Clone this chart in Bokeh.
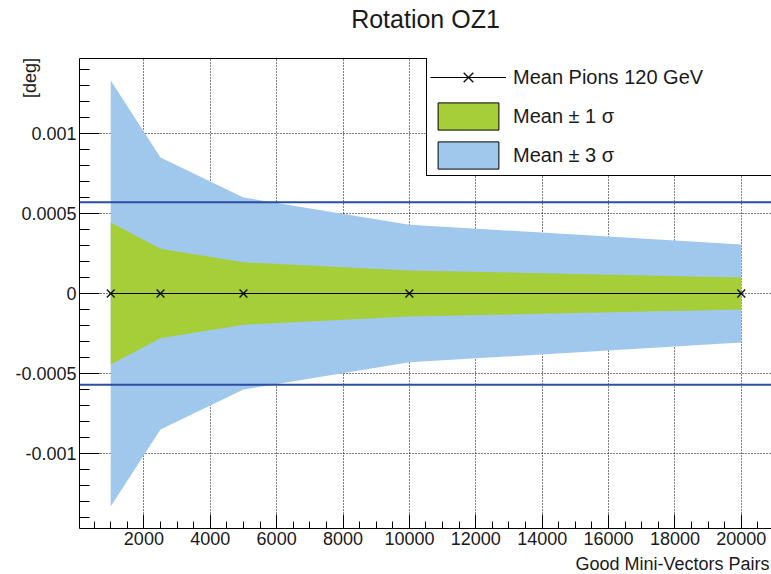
import math
import numpy as np
from bokeh.plotting import figure
from bokeh.models import (Range1d, FixedTicker, Span, Label, Legend, LegendItem,
                          LinearAxis, Title)
from bokeh.core.properties import value
from bokeh.embed import file_html
from bokeh.resources import INLINE

# ---------------- data ----------------
n_pairs = [1000, 2500, 5000, 10000, 20000]
mean_vals = [0.0, 0.0, 0.0, 0.0, 0.0]
sigma1 = [0.000444, 0.00028, 0.000195, 0.000144, 0.0001]
sigma3 = [0.00133, 0.00085, 0.0006, 0.00043, 0.000306]
limit = 0.00057

x_ticks = [2000, 4000, 6000, 8000, 10000, 12000, 14000, 16000, 18000, 20000]
y_ticks = [-0.001, -0.0005, 0.0, 0.0005, 0.001]
y_tick_labels = ["-0.001", "-0.0005", "0", "0.0005", "0.001"]

title_text = "Rotation OZ1"
x_title = "Good Mini-Vectors Pairs"
y_title = "[deg]"
legend_labels = ["Mean Pions 120 GeV", "Mean \u00b1 1 \u03c3", "Mean \u00b1 3 \u03c3"]

# ---------------- style / layout ----------------
FONT = "Liberation Sans"
GREEN = "#a6ce39"
BLUE = "#a0c8ec"
LIMIT_COLOR = "#2a4ea3"
TEXT = "#1a1a1a"
X0, X1 = 60, 20910
Y0, Y1 = -0.001468, 0.001468
LEFT, TOP, FRAME_W, FRAME_H = 79, 58, 692, 470
XPP = (X1 - X0) / FRAME_W     # data units per pixel
YPP = (Y1 - Y0) / FRAME_H

mean = np.array(mean_vals)
s1 = np.array(sigma1)
s3 = np.array(sigma3)

p = figure(width=771, height=572, output_backend="svg", toolbar_location=None,
           x_range=Range1d(X0, X1), y_range=Range1d(Y0, Y1),
           min_border_left=LEFT, min_border_right=0, min_border_top=TOP,
           min_border_bottom=572 - TOP - FRAME_H, outline_line_color=None,
           title=None, background_fill_color="white", border_fill_color="white")

# bands
p.varea(x=n_pairs, y1=mean - s3, y2=mean + s3, fill_color=BLUE, fill_alpha=1.0)
p.varea(x=n_pairs, y1=mean - s1, y2=mean + s1, fill_color=GREEN, fill_alpha=1.0)

# legend proxies (invisible patches built from the same data, with outline)
px = list(n_pairs) + list(n_pairs[::-1])
proxy1 = p.patch(x=px, y=list(mean + s1) + list((mean - s1)[::-1]),
                 fill_color=GREEN, line_color="black", line_width=1, visible=False)
proxy3 = p.patch(x=px, y=list(mean + s3) + list((mean - s3)[::-1]),
                 fill_color=BLUE, line_color="black", line_width=1, visible=False)

# limit lines
for loc in (limit, -limit):
    p.add_layout(Span(location=loc, dimension="width", line_color=LIMIT_COLOR,
                      line_width=2))

# mean line + markers
r_line = p.line(n_pairs, mean_vals, line_color="black", line_width=1)
r_pts = p.scatter(n_pairs, mean_vals, marker="x", size=11, line_color="#111111",
                  line_width=1.4)

# axes
xa = p.xaxis[0]
ya = p.yaxis[0]
xa.ticker = FixedTicker(ticks=x_ticks, minor_ticks=list(range(500, 21000, 500)))
ya.ticker = FixedTicker(ticks=y_ticks,
                        minor_ticks=[round(k * 0.0001, 6) for k in range(-14, 15)])
ya.major_label_overrides = {t: l for t, l in zip(y_ticks, y_tick_labels)}
for ax in (xa, ya):
    ax.axis_line_color = "black"
    ax.axis_line_width = 1
    ax.major_tick_out = 0
    ax.minor_tick_out = 0
    ax.major_tick_line_color = "black"
    ax.minor_tick_line_color = "black"
    ax.major_label_text_font = FONT
    ax.major_label_text_font_size = "18px"
    ax.major_label_text_color = TEXT
    ax.major_label_standoff = 3
xa.major_tick_in = 14
xa.minor_tick_in = 7
ya.major_tick_in = 20
ya.minor_tick_in = 10

top_axis = LinearAxis(ticker=FixedTicker(ticks=[]), axis_line_color="black",
                      axis_line_width=1, major_tick_in=0, major_tick_out=0,
                      minor_tick_in=0, minor_tick_out=0, major_label_standoff=0,
                      major_label_text_font_size="0px")
p.add_layout(top_axis, "above")

# grids
p.xgrid.ticker = FixedTicker(ticks=x_ticks)
p.ygrid.ticker = FixedTicker(ticks=y_ticks)
for g in (p.xgrid, p.ygrid):
    g.grid_line_color = "black"
    g.grid_line_dash = "1 2"
    g.grid_line_width = 1

# texts outside the frame
# y title: rotated label in the top panel, centred on its target box
p.add_layout(Label(x=X0 - (LEFT - 29.5) * XPP, y=Y1 - 19.5 * YPP, text=y_title,
                   angle=math.pi / 2, text_align="center", text_baseline="middle",
                   text_font=FONT, text_font_size="18px", text_color=TEXT), "above")
# main title: outermost in the top panel
p.add_layout(Title(text=title_text, align="center", vertical_align="bottom",
                   text_font=FONT, text_font_size="25px", text_font_style="normal",
                   text_color=TEXT, standoff=-29), "above")
# x title: label in the bottom panel, right-aligned with the frame end
p.add_layout(Label(x=X1 - 2 * XPP, y=Y0 - 35 * YPP, text=x_title,
                   text_align="right", text_baseline="middle",
                   text_font=FONT, text_font_size="18px", text_color=TEXT), "below")

# legend
legend = Legend(items=[
    LegendItem(label=value(legend_labels[0]), renderers=[r_line, r_pts]),
    LegendItem(label=value(legend_labels[1]), renderers=[proxy1]),
    LegendItem(label=value(legend_labels[2]), renderers=[proxy3]),
], location=(347, 352), margin=0, padding=3, spacing=5,
    glyph_width=76, glyph_height=34, label_standoff=7, label_width=260,
    label_height=34, label_text_font=FONT, label_text_font_size="20px",
    label_text_color=TEXT, label_text_baseline="middle",
    border_line_color="black", border_line_width=1, border_line_alpha=1.0,
    background_fill_color="white", background_fill_alpha=1.0)
p.add_layout(legend)

open("out.html", "w").write(file_html(p, INLINE))
